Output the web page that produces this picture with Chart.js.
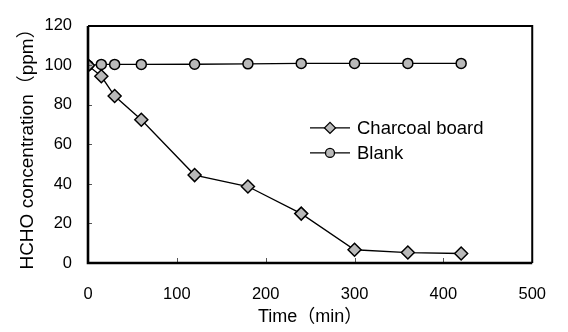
<!DOCTYPE html>
<html>
<head>
<meta charset="utf-8">
<style>
  html, body { margin: 0; padding: 0; background: #fff; }
  #wrap { width: 568px; height: 332px; position: relative; }
</style>
<script src="https://cdn.jsdelivr.net/npm/chart.js@4/dist/chart.umd.min.js"></script>
</head>
<body>
<div id="wrap"><canvas id="c" width="568" height="332"></canvas></div>
<script>
// ---- Data ----
const timeMin = [0, 15, 30, 60, 120, 180, 240, 300, 360, 420];
const charcoalBoard = [100, 94.5, 84.5, 72.5, 44.5, 38.7, 25, 6.7, 5.3, 4.8];
const blank = [100, 100.5, 100.5, 100.5, 100.6, 100.8, 101, 101, 101, 101];
const xTicks = [0, 100, 200, 300, 400, 500];
const yTicks = [0, 20, 40, 60, 80, 100, 120];
const seriesLabels = ['Charcoal board', 'Blank'];
const xTitle = 'Time（min）';
const yTitle = 'HCHO concentration（ppm）';

const FONT = '"Liberation Sans", Arial, "Noto Sans CJK JP", sans-serif';
const MARK_FILL = '#b9b9b9';

function toXY(xs, ys) { return xs.map((x, i) => ({ x: x, y: ys[i] })); }

// Frame + inward tick marks
const framePlugin = {
  id: 'frame',
  afterDraw(chart) {
    const { ctx, chartArea: a, scales } = chart;
    ctx.save();
    ctx.lineWidth = 1;
    ctx.strokeStyle = '#555';
    xTicks.slice(1, -1).forEach(v => {
      const px = Math.round(scales.x.getPixelForValue(v)) + 0.5;
      ctx.beginPath(); ctx.moveTo(px, a.bottom); ctx.lineTo(px, a.bottom - 5); ctx.stroke();
    });
    yTicks.slice(1, -1).forEach(v => {
      const py = Math.round(scales.y.getPixelForValue(v)) + 0.5;
      ctx.beginPath(); ctx.moveTo(a.left, py); ctx.lineTo(a.left + 4, py); ctx.stroke();
    });
    ctx.strokeStyle = '#000';
    ctx.lineWidth = 2;
    ctx.beginPath();
    ctx.moveTo(a.left, a.top); ctx.lineTo(a.right, a.top); ctx.lineTo(a.right, a.bottom);
    ctx.stroke();
    ctx.lineWidth = 2.6;
    ctx.beginPath();
    ctx.moveTo(a.left, a.top); ctx.lineTo(a.left, a.bottom); ctx.lineTo(a.right, a.bottom);
    ctx.stroke();
    ctx.restore();
  }
};

// Legend drawn inside the plot
const legendPlugin = {
  id: 'inlegend',
  afterDraw(chart) {
    const { ctx, chartArea: a } = chart;
    const x0 = a.left + 222, x1 = a.left + 262, tx = a.left + 269;
    const rows = [a.top + 102, a.top + 127];
    ctx.save();
    chart.data.datasets.forEach((ds, i) => {
      const y = rows[i];
      ctx.strokeStyle = '#000';
      ctx.lineWidth = 1.2;
      ctx.beginPath(); ctx.moveTo(x0, y); ctx.lineTo(x1, y); ctx.stroke();
      ctx.fillStyle = MARK_FILL;
      ctx.strokeStyle = '#000';
      ctx.lineWidth = 1.3;
      Chart.helpers.drawPoint(ctx, { pointStyle: ds.pointStyle, radius: ds.pointStyle === 'rectRot' ? 5.5 : 4.5, rotation: 0, borderWidth: 1.3 }, (x0 + x1) / 2, y);
      ctx.fillStyle = '#000';
      ctx.font = '18.5px ' + FONT;
      ctx.textBaseline = 'middle';
      ctx.textAlign = 'left';
      ctx.fillText(ds.label, tx, y + 1);
    });
    ctx.restore();
  }
};

new Chart(document.getElementById('c'), {
  type: 'scatter',
  data: {
    datasets: [
      {
        label: seriesLabels[0],
        data: toXY(timeMin, charcoalBoard),
        showLine: true,
        borderColor: '#000',
        borderWidth: 1.3,
        pointStyle: 'rectRot',
        pointRadius: 6.5,
        pointBackgroundColor: MARK_FILL,
        pointBorderColor: '#000',
        pointBorderWidth: 1.5,
        order: 1
      },
      {
        label: seriesLabels[1],
        data: toXY(timeMin, blank),
        showLine: true,
        borderColor: '#000',
        borderWidth: 1.3,
        pointStyle: 'circle',
        pointRadius: 5,
        pointBackgroundColor: MARK_FILL,
        pointBorderColor: '#000',
        pointBorderWidth: 1.5,
        order: 2
      }
    ]
  },
  options: {
    responsive: false,
    animation: false,
    devicePixelRatio: 1,
    layout: { padding: { top: 13, right: 25, left: 0, bottom: 0 } },
    plugins: { legend: { display: false }, tooltip: { enabled: false } },
    scales: {
      x: {
        type: 'linear',
        min: 0, max: 500,
        afterBuildTicks(s) { s.ticks = xTicks.map(v => ({ value: v })); },
        afterFit(s) { s.height = 69; },
        grid: { display: false, drawTicks: false },
        border: { display: false },
        ticks: { color: '#000', font: { family: FONT, size: 16.5 }, padding: 22, maxRotation: 0 },
        title: { display: true, text: xTitle, color: '#000', font: { family: FONT, size: 18 }, padding: { top: 0, bottom: 4 } }
      },
      y: {
        type: 'linear',
        min: 0, max: 120,
        afterBuildTicks(s) { s.ticks = yTicks.map(v => ({ value: v })); },
        afterFit(s) { s.width = 88; },
        grid: { display: false, drawTicks: false },
        border: { display: false },
        ticks: { color: '#000', font: { family: FONT, size: 16.5 }, padding: 16 },
        title: { display: true, text: yTitle, color: '#000', font: { family: FONT, size: 19 }, padding: { top: 16, bottom: 0 } }
      }
    }
  },
  plugins: [framePlugin, legendPlugin]
});
</script>
</body>
</html>
